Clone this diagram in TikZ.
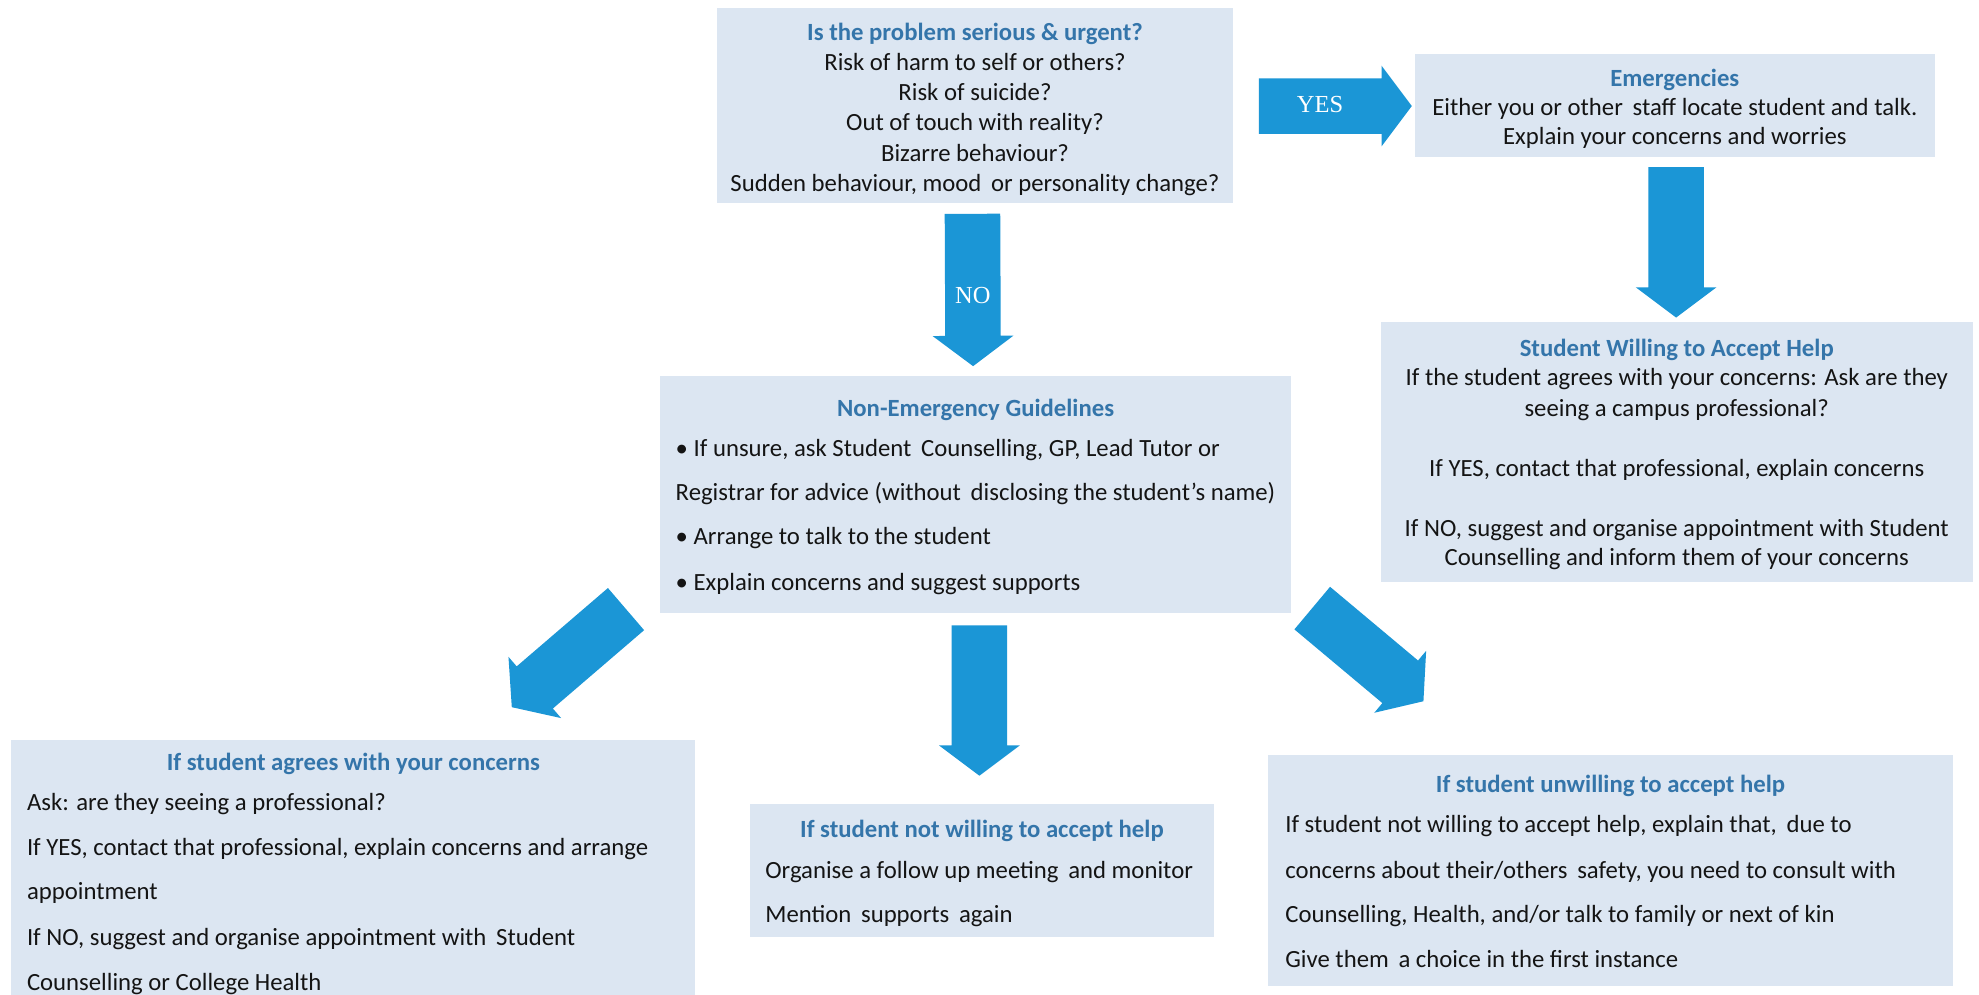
\documentclass[tikz,border=0pt]{standalone}
\usepackage{fontspec}
\setmainfont{Carlito}
\newfontfamily\yesfont{Liberation Serif}
\usetikzlibrary{calc,fit}
\definecolor{boxfill}{RGB}{220,230,242}
\definecolor{arrowblue}{RGB}{27,150,214}
\definecolor{titleblue}{RGB}{52,117,170}
\definecolor{bodytext}{RGB}{20,20,20}
\newcommand\blockarrow[2]{%
  \path ($(#2)!12pt!(#1)$) coordinate (ahbase);
  \fill[arrowblue] ($(#1)!11pt!90:(#2)$) -- ($(ahbase)!11pt!90:(#2)$) -- ($(ahbase)!16pt!90:(#2)$) -- (#2)
     -- ($(ahbase)!16pt!-90:(#2)$) -- ($(ahbase)!11pt!-90:(#2)$) -- ($(#1)!11pt!-90:(#2)$) -- cycle;}
\begin{document}
\begin{tikzpicture}[x=0.5pt,y=-0.5pt,
  box/.style={fill=boxfill,draw=none,inner sep=0pt},
  ttl/.style={font=\fontsize{9.8}{12}\selectfont\bfseries,text=titleblue,anchor=mid,inner sep=0pt,yshift=-1pt},
  ln/.style={font=\fontsize{9.8}{12}\selectfont,text=bodytext,anchor=mid,inner sep=0pt,yshift=-1pt},
  lnl/.style={ln,anchor=mid west},
  yn/.style={font=\yesfont\fontsize{9.7}{11}\selectfont,text=white,anchor=mid,inner sep=0pt}]
\useasboundingbox[fill=white] (0,0) rectangle (1568,788);

% boxes
\node[box,fit={(568,6)(977,161)}] (top) {};
\node[box,fit={(1121,43)(1533,124)}] (emerg) {};
\node[box,fit={(1094,255)(1563,461)}] (willing) {};
\node[box,fit={(523,298)(1023,486)}] (nonem) {};
\node[box,fit={(9,586)(551,800)}] (leftb) {};
\node[box,fit={(594,637)(962,742)}] (midb) {};
\node[box,fit={(1005,598)(1547,781)}] (rightb) {};

% top box text
\node[ttl] (t0) at (772.5,25) {Is the problem serious \& urgent?};
\node[ln] (t1) at (772.5,49) {Risk of harm to self or others?};
\node[ln] (t2) at (772.5,73) {Risk of suicide?};
\node[ln] (t3) at (772.5,97) {Out of touch with reality?};
\node[ln] (t4) at (772.5,121) {Bizarre behaviour?};
\node[ln] (t5) at (772.5,145) {Sudden behaviour, mood\, or personality change?};

% emergencies
\node[ttl] (e0) at (1327,62) {Emergencies};
\node[ln] (e1) at (1327,85) {Either you or other\, staff locate student and talk.};
\node[ln] (e2) at (1327,108) {Explain your concerns and worries};

% student willing
\node[ttl] (w0) at (1328.5,276) {Student Willing to Accept Help};
\node[ln] (w1) at (1328.5,299) {If the student agrees with your concerns: Ask are they};
\node[ln] (w2) at (1328.5,323) {seeing a campus professional?};
\node[ln] (w3) at (1328.5,371) {If YES, contact that professional, explain concerns};
\node[ln] (w4) at (1328.5,418) {If NO, suggest and organise appointment with Student};
\node[ln] (w5) at (1328.5,441) {Counselling and inform them of your concerns};

% non-emergency
\node[ttl] (n0) at (773,323) {Non-Emergency Guidelines};
\node[lnl] (n1) at (535,355) {\textbullet\ If unsure, ask Student\, Counselling, GP, Lead Tutor or};
\node[lnl] (n2) at (535,390) {Registrar for advice (without\, disclosing the student’s name)};
\node[lnl] (n3) at (535,425) {\textbullet\ Arrange to talk to the student};
\node[lnl] (n4) at (535,461) {\textbullet\ Explain concerns and suggest supports};

% left bottom
\node[ttl] (l0) at (280,604) {If student agrees with your concerns};
\node[lnl] (l1) at (21,635) {Ask: are they seeing a professional?};
\node[lnl] (l2) at (21,671) {If YES, contact that professional, explain concerns and arrange};
\node[lnl] (l3) at (21,706) {appointment};
\node[lnl] (l4) at (21,742) {If NO, suggest and organise appointment with\, Student};
\node[lnl] (l5) at (21,778) {Counselling or College Health};

% middle bottom
\node[ttl] (m0) at (778,657) {If student not willing to accept help};
\node[lnl] (m1) at (606,689) {Organise a follow up meeting\, and monitor};
\node[lnl] (m2) at (606,724) {Mention\, supports\, again};

% right bottom
\node[ttl] (r0) at (1276,621) {If student unwilling to accept help};
\node[lnl] (r1) at (1018,653) {If student not willing to accept help, explain that,\, due to};
\node[lnl] (r2) at (1018,689) {concerns about their/others\, safety, you need to consult with};
\node[lnl] (r3) at (1018,724) {Counselling, Health, and/or talk to family or next of kin};
\node[lnl] (r4) at (1018,760) {Give them\, a choice in the first instance};

% arrow ends
\coordinate (yesTail) at ($(top.east)+(20,0.5)$);
\coordinate (yesTip) at ($(emerg.west)+(-2,0.5)$);
\coordinate (noTail) at ($(top.south)+(-2,8)$);
\coordinate (noTip) at ($(nonem.north)+(-2,-7.5)$);
\coordinate (emTail) at ($(emerg.south)+(1,8)$);
\coordinate (emTip) at ($(willing.north)+(-0.5,-3)$);
\coordinate (midTail) at ($(nonem.south)+(3,9)$);
\coordinate (midTip) at ($(midb.north)+(-2,-22)$);
\coordinate (lTail) at ($(nonem.south west)+(-26.6,-3.8)$);
\coordinate (lTip) at ($(leftb.north)+(125.5,-25.3)$);
\coordinate (rTail) at ($(nonem.south east)+(16.3,-4.6)$);
\coordinate (rTip) at ($(rightb.north)+(-148.2,-42)$);

\blockarrow{yesTail}{yesTip}
\blockarrow{noTail}{noTip}
\blockarrow{emTail}{emTip}
\blockarrow{midTail}{midTip}
\blockarrow{lTail}{lTip}
\blockarrow{rTail}{rTip}

\node[yn] (yes) at ($(yesTail)!0.4!(yesTip)$) {YES};
\node[yn] (no) at ($(noTail)!0.55!(noTip)$) {NO};
\end{tikzpicture}
\end{document}
